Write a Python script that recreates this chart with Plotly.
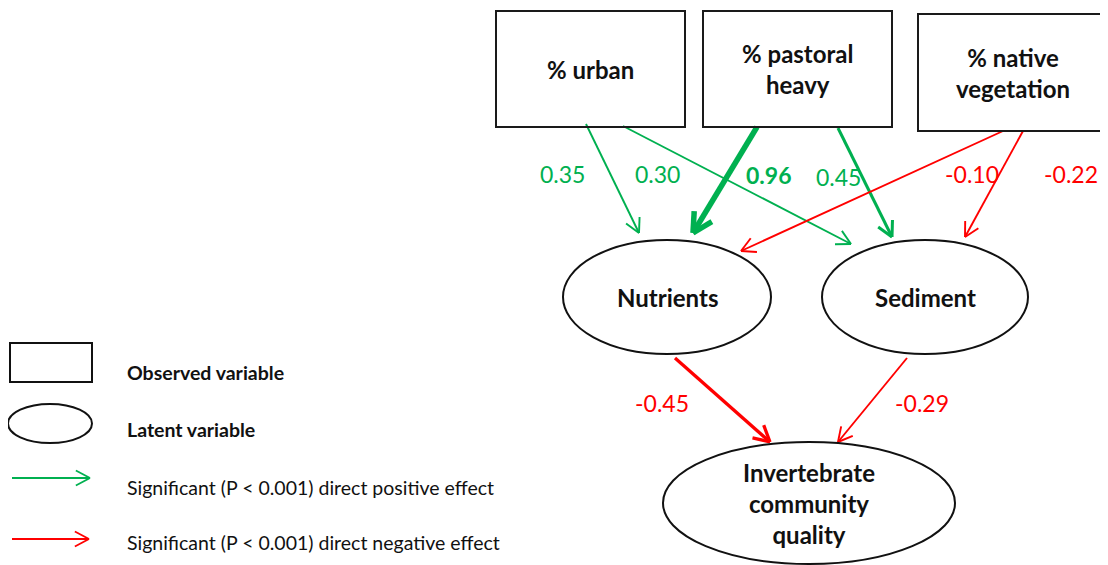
import math
import plotly.graph_objects as go

# ---- data ----
observed = ["% urban", "% pastoral<br>heavy", "% native<br>vegetation"]
latent = ["Nutrients", "Sediment", "Invertebrate<br>community<br>quality"]
edge_from = ["% urban", "% urban", "% pastoral heavy", "% pastoral heavy",
             "% native vegetation", "% native vegetation", "Nutrients", "Sediment"]
edge_to = ["Nutrients", "Sediment", "Nutrients", "Sediment",
           "Nutrients", "Sediment", "Invertebrate", "Invertebrate"]
coef = [0.35, 0.30, 0.96, 0.45, -0.10, -0.22, -0.45, -0.29]
coef_text = ["0.35", "0.30", "<b>0.96</b>", "0.45", "-0.10", "-0.22", "-0.45", "-0.29"]
legend_text = ["<b>Observed variable</b>", "<b>Latent variable</b>",
               "Significant (P < 0.001) direct positive effect",
               "Significant (P < 0.001) direct negative effect"]

# ---- layout / geometry (page pixel space) ----
W, H = 1108, 565
OFF = 8  # default page body margin
GREEN = "#00B050"
RED = "#FF0000"
FONT = "Lato"

box_pos = [(496, 11, 685, 127), (703, 11, 892, 127), (918, 14, 1107, 131)]
ell_pos = [(667, 297, 104, 57), (925, 297, 103, 57), (809, 503, 146, 61)]
edge_xy = [((586, 124), (639, 233)), ((623, 126), (851, 244)),
           ((757, 127), (693, 233)), ((838, 128), (892, 237)),
           ((1003, 131), (741, 251)), ((1023, 131), (965, 237)),
           ((675, 358), (770, 442)), ((907, 358), (838, 442))]
edge_w = [1.9, 1.9, 5.5, 3.0, 1.9, 1.9, 3.3, 1.9]
head_len = [16, 16, 22, 17, 16, 16, 18, 16]
label_xy = [(562, 174), (657, 174), (768, 175), (838, 177),
            (972, 174), (1071, 174), (662, 403), (922, 403)]

fig = go.Figure()


def arrow(p0, p1, color, width, hl, name):
    (x0, y0), (x1, y1) = p0, p1
    ang = math.atan2(y1 - y0, x1 - x0)
    xs = [x0, x1, None]
    ys = [y0, y1, None]
    for s in (1, -1):
        a = ang + math.pi + s * math.radians(28)
        xs += [x1, x1 + hl * math.cos(a), None]
        ys += [y1, y1 + hl * math.sin(a), None]
    fig.add_trace(go.Scatter(x=xs, y=ys, mode="lines", name=name,
                             line=dict(color=color, width=width),
                             hoverinfo="skip", showlegend=False))


for i, c in enumerate(coef):
    col = GREEN if c > 0 else RED
    arrow(edge_xy[i][0], edge_xy[i][1], col, edge_w[i], head_len[i],
          f"{edge_from[i]} → {edge_to[i]}")
    fig.add_annotation(x=label_xy[i][0], y=label_xy[i][1], text=coef_text[i],
                       showarrow=False, font=dict(family=FONT, size=23, color=col))

shapes = []
for (x0, y0, x1, y1), name in zip(box_pos, observed):
    shapes.append(dict(type="rect", x0=x0, y0=y0, x1=x1, y1=y1,
                       line=dict(color="#1a1a1a", width=2), fillcolor="rgba(0,0,0,0)"))
    fig.add_annotation(x=(x0 + x1) / 2, y=(y0 + y1) / 2, text=f"<b>{name}</b>",
                       showarrow=False, font=dict(family=FONT, size=24, color="#111"))
for (cx, cy, rx, ry), name in zip(ell_pos, latent):
    shapes.append(dict(type="circle", x0=cx - rx, y0=cy - ry, x1=cx + rx, y1=cy + ry,
                       line=dict(color="#111", width=2), fillcolor="rgba(0,0,0,0)"))
    fig.add_annotation(x=cx, y=cy, text=f"<b>{name}</b>", showarrow=False,
                       font=dict(family=FONT, size=24, color="#111"))

# legend
shapes.append(dict(type="rect", x0=10, y0=343, x1=92, y1=382,
                   line=dict(color="#111", width=2)))
shapes.append(dict(type="circle", x0=8, y0=404, x1=92, y1=443,
                   line=dict(color="#111", width=2)))
arrow((12, 478), (90, 478), GREEN, 1.8, 16, "legend positive")
arrow((12, 539), (89, 539), RED, 1.8, 16, "legend negative")
leg_y = [372, 429, 487, 542]
for t, y in zip(legend_text, leg_y):
    fig.add_annotation(x=125, y=y, text=t, showarrow=False, xanchor="left",
                       font=dict(family=FONT, size=19.5, color="#111"))

fig.update_layout(
    width=W - OFF, height=H - OFF, margin=dict(l=0, r=0, t=0, b=0),
    plot_bgcolor="white", paper_bgcolor="white", shapes=shapes,
    xaxis=dict(range=[OFF, W], visible=False, fixedrange=True),
    yaxis=dict(range=[H, OFF], visible=False, fixedrange=True),
)
fig.write_html("out.html")
